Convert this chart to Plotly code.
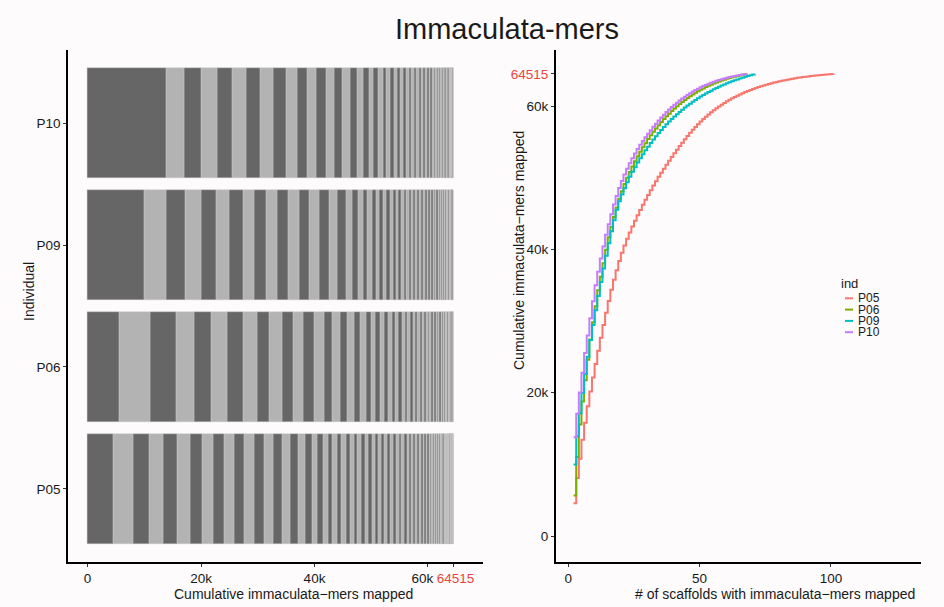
import numpy as np
import plotly.graph_objects as go

W, H = 944, 607

individuals = ["P05", "P06", "P09", "P10"]
colors = {"P05": "#F8766D", "P06": "#7CAE00", "P09": "#00BFC4", "P10": "#C77CFF"}
TOTAL = 64515

# immaculata-mers mapped per scaffold (sorted, largest first)
sizes_P05 = [4580, 3520, 2700, 2620, 2380, 2320, 2060, 1940, 1900, 1840, 1820, 1780, 1700, 1640,
             1580, 1380, 1340, 1280, 1170, 1010, 940, 860, 830, 810, 770, 750, 710, 700, 680, 660,
             640, 620, 600, 580, 570, 550, 540, 530, 520, 510, 500, 480, 470,
             460, 440, 420, 400, 382, 364, 347, 331, 316, 301, 287, 273, 260, 248, 236, 225, 214,
             204, 194, 185, 176, 168, 160, 152, 145, 138, 131, 125, 119, 113, 108, 103, 98, 93,
             88, 84, 80, 76, 72, 69, 65, 62, 59, 56, 53, 50, 48, 45, 43, 41, 39, 37, 35, 33, 31,
             30, 23]
sizes_P06 = [5640, 5400, 4520, 3230, 2940, 2880, 2820, 2410, 2240, 2220, 1900, 1880, 1860, 1760,
             1480, 1360, 1320, 1200, 1080, 980, 870, 810, 770, 740, 690, 640, 610, 590, 560, 540,
             486, 471, 451, 432, 415, 391, 372, 359, 340, 323, 309, 295, 283, 266, 255, 243, 230,
             218, 205, 197, 184, 173, 165, 156, 146, 139, 130, 123, 116, 109, 103, 97, 90, 85,
             79, 71, 68]
sizes_P09 = [9990, 3930, 3230, 2820, 2640, 2410, 2350, 2100, 2040, 2000, 1940, 1880, 1800, 1740,
             1680, 1530, 1450, 1180, 960, 880, 820, 760, 700, 660, 630, 600, 570, 540, 520,
             505, 483, 463, 444, 423, 408, 391, 376, 361, 346, 332, 319, 305, 295, 282, 271, 260,
             250, 240, 230, 221, 212, 204, 195, 188, 180, 173, 166, 159, 153, 147, 141, 135, 130,
             125, 120, 115, 110, 106, 102, 99]
sizes_P10 = [13800, 3280, 2940, 2760, 2750, 2470, 2410, 2350, 2240, 1880, 1870, 1650, 1640, 1470,
             1410, 1360, 1180, 1110, 1000, 880, 820, 770, 700, 650, 640, 580, 530, 520,
             500, 485, 465, 452, 430, 415, 396, 372, 355, 338, 321, 304, 290, 276, 262, 249, 236,
             224, 211, 199, 188, 176, 165, 154, 146, 137, 128, 119, 111, 104, 97, 90, 84, 78, 71,
             66, 60, 52, 49]
sizes = {"P05": sizes_P05, "P06": sizes_P06, "P09": sizes_P09, "P10": sizes_P10}

x_ticks_left = [0, 20000, 40000, 60000, TOTAL]
y_ticks_right = [0, 20000, 40000, 60000, TOTAL]
x_ticks_right = [0, 50, 100]
RED = "#E8463D"

def klabel(v, pad60="", padtot=""):
    if v == TOTAL:
        return f'<span style="color:{RED}">{padtot}{v}</span>'
    return "0" if v == 0 else f"{v // 1000}k" + (pad60 if v == 60000 else "")

fig = go.Figure()

DARK, LIGHT = "#666666", "#B3B3B3"
for ind in individuals:
    s = np.array(sizes[ind], dtype=float)
    base = np.concatenate([[0], np.cumsum(s)[:-1]])
    cols = [DARK if i % 2 == 0 else LIGHT for i in range(len(s))]
    fig.add_trace(go.Bar(
        y=[ind] * len(s), x=s, base=base, orientation="h", width=0.9,
        marker=dict(color=cols, line=dict(width=0.4, color="#C8C8C8")),
        xaxis="x", yaxis="y", showlegend=False, hoverinfo="skip"))

for ind in individuals:
    s = np.array(sizes[ind], dtype=float)
    cum = np.cumsum(s)
    xs = np.arange(2, len(s) + 2)
    fig.add_trace(go.Scatter(
        x=xs, y=cum, mode="lines", line=dict(color=colors[ind], width=2, shape="hv"),
        xaxis="x2", yaxis="y2", showlegend=False, name=ind))

FONT = "Liberation Sans, Arial, sans-serif"
TXT = "#1A1A1A"
ydom = [(H - 562) / H, (H - 50) / H]
axis_common = dict(showgrid=False, zeroline=False, showline=True, linecolor="black", linewidth=2,
                   ticks="outside", ticklen=3, tickcolor="#333333", tickwidth=1, tickangle=0,
                   tickfont=dict(family=FONT, size=13.5, color=TXT))

fig.update_layout(
    width=W, height=H, margin=dict(l=0, r=0, t=0, b=0),
    paper_bgcolor="#FDFBFB", plot_bgcolor="#FDFBFB",
    barmode="overlay", bargap=0,
    xaxis=dict(domain=[68.3 / W, 483 / W], range=[-3400, 69700], tickmode="array",
               tickvals=x_ticks_left,
               ticktext=[klabel(v, "\u00a0\u00a0\u00a0", "\u00a0") for v in x_ticks_left],
               **axis_common),
    yaxis=dict(domain=ydom, range=[-0.6, 3.6], type="category",
               categoryorder="array", categoryarray=individuals, **axis_common),
    xaxis2=dict(domain=[556 / W, 920.7 / W], range=[-4.7, 134.2], tickmode="array",
                tickvals=x_ticks_right, ticktext=[str(v) for v in x_ticks_right],
                anchor="y2", **axis_common),
    yaxis2=dict(domain=ydom, range=[-3630, 67840], tickmode="array", anchor="x2",
                tickvals=y_ticks_right, ticktext=[klabel(v) for v in y_ticks_right], **axis_common),
)

def px(xp, yp):
    return xp / W, 1 - yp / H

anns = []
tx, ty = px(506.7, 29)
anns.append(dict(text="Immaculata-mers", x=tx, y=ty, font=dict(family=FONT, size=29, color=TXT)))
ax_, ay_ = px(293, 594)
anns.append(dict(text="Cumulative immaculata\u2212mers mapped", x=ax_, y=ay_,
                 font=dict(family=FONT, size=14, color=TXT)))
ax_, ay_ = px(775, 593.5)
anns.append(dict(text="# of scaffolds with immaculata\u2212mers mapped", x=ax_, y=ay_,
                 font=dict(family=FONT, size=14, color=TXT)))
ax_, ay_ = px(28.5, 291.5)
anns.append(dict(text="Individual", x=ax_, y=ay_, textangle=-90,
                 font=dict(family=FONT, size=14, color=TXT)))
ax_, ay_ = px(519, 251)
anns.append(dict(text="Cumulative immaculata\u2212mers mapped", x=ax_, y=ay_, textangle=-90,
                 font=dict(family=FONT, size=14, color=TXT)))
# legend
lx, ly = px(840, 283)
anns.append(dict(text="ind", x=lx, y=ly, xanchor="left",
                 font=dict(family=FONT, size=13, color=TXT)))
shapes = []
for i, ind in enumerate(individuals):
    yy = 298.3 + i * 11.3
    x0, y0 = px(845, yy)
    x1, _ = px(853, yy)
    shapes.append(dict(type="line", xref="paper", yref="paper", x0=x0, x1=x1, y0=y0, y1=y0,
                       line=dict(color=colors[ind], width=2)))
    tx2, _ = px(856.5, yy)
    anns.append(dict(text=ind, x=tx2, y=y0, xanchor="left",
                     font=dict(family=FONT, size=12, color=TXT)))
for a in anns:
    a.update(xref="paper", yref="paper", showarrow=False, borderpad=0)
    a.setdefault("xanchor", "center")
    a.setdefault("yanchor", "middle")
fig.update_layout(annotations=anns, shapes=shapes)

fig.write_html("out.html")
